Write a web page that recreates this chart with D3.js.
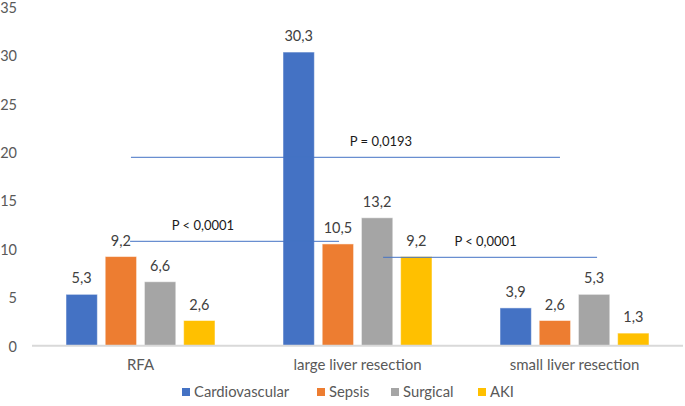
<!DOCTYPE html>
<html><head><meta charset="utf-8">
<script src="https://cdn.jsdelivr.net/npm/d3@7"></script>
<style>
html,body{margin:0;padding:0;background:#fff;}
svg{display:block;font-family:Lato,"Open Sans",sans-serif;}
</style></head>
<body>
<svg id="chart" width="685" height="406"></svg>
<script>
const categories = ["RFA", "large liver resection", "small liver resection"];
const seriesNames = ["Cardiovascular", "Sepsis", "Surgical", "AKI"];
const cardiovascular = [5.3, 30.3, 3.9];
const sepsis = [9.2, 10.5, 2.6];
const surgical = [6.6, 13.2, 5.3];
const aki = [2.6, 9.2, 1.3];
const yTicks = [0, 5, 10, 15, 20, 25, 30, 35];
const colors = ["#4472C4", "#ED7D31", "#A5A5A5", "#FFC000"];
// significance annotations: value on y axis, span in category-position units
const annotLabels = ["P = 0,0193", "P < 0,0001", "P < 0,0001"];
const annotValues = [19.43, 10.76, 9.11];
const annotStart = [0.456, 0.452, 1.618];
const annotEnd = [2.433, 1.415, 2.604];
const annotTextPos = [1.608, 0.788, 2.09];

const seriesValues = [cardiovascular, sepsis, surgical, aki];
const svg = d3.select("#chart");
const mLeft = 32, mRight = 683, mTop = 6.5, mBottom = 345.7;

const y = d3.scaleLinear().domain([0, 35]).range([mBottom, mTop]);
const x0 = d3.scaleBand().domain(categories).range([mLeft, mRight]).padding(0);
const x1 = d3.scaleBand().domain(seriesNames).range([34, 183]).paddingInner(0.2).paddingOuter(0);
const xc = d3.scaleLinear().domain([0, 3]).range([mLeft, mRight]);

// y tick labels
const yAxis = d3.axisLeft(y).tickValues(yTicks).tickSize(0).tickFormat(d3.format("d"));
const ga = svg.append("g").attr("transform", `translate(17,1)`).call(yAxis);
ga.select(".domain").remove();
ga.selectAll("text").attr("x", 0).attr("font-size", "14.5px").attr("fill", "#595959")
  .attr("font-family", "Lato, sans-serif");

// bars
categories.forEach((c, ci) => {
  const g = svg.append("g").attr("transform", `translate(${x0(c)},0)`);
  seriesNames.forEach((s, si) => {
    const v = seriesValues[si][ci];
    g.append("rect")
      .attr("x", x1(s)).attr("y", y(v))
      .attr("width", x1.bandwidth()).attr("height", y(0) - y(v))
      .attr("fill", colors[si]).attr("stroke", "#fff").attr("stroke-opacity", 0.5).attr("stroke-width", 1);
    g.append("text")
      .attr("x", x1(s) + x1.bandwidth() / 2).attr("y", y(v) - 11)
      .attr("text-anchor", "middle").attr("font-size", "14.5px").attr("fill", "#404040")
      .text(d3.format(".1f")(v).replace(".", ","));
  });
});

// x axis line
svg.append("line").attr("x1", mLeft).attr("x2", mRight).attr("y1", y(0)).attr("y2", y(0))
  .attr("stroke", "#d9d9d9").attr("stroke-width", 2);

// x axis labels
const xAxis = d3.axisBottom(x0).tickSize(0);
const gx = svg.append("g").attr("transform", `translate(0,${y(0)})`).call(xAxis);
gx.select(".domain").remove();
gx.selectAll("text").attr("y", 14).attr("font-size", "15px").attr("fill", "#595959")
  .attr("font-family", "Lato, sans-serif");

// annotations
annotLabels.forEach((lab, i) => {
  svg.append("line")
    .attr("x1", xc(annotStart[i])).attr("x2", xc(annotEnd[i]))
    .attr("y1", y(annotValues[i])).attr("y2", y(annotValues[i]))
    .attr("stroke", "#4472C4").attr("stroke-width", 1.2).attr("stroke-opacity", 0.8);
  svg.append("text")
    .attr("x", xc(annotTextPos[i])).attr("y", y(annotValues[i]) - 11)
    .attr("text-anchor", "middle").attr("font-size", "13px").attr("fill", "#1a1a1a")
    .text(lab);
});

// legend
const legendX = [182, 317, 391, 478];
seriesNames.forEach((s, i) => {
  const g = svg.append("g").attr("transform", `translate(${legendX[i]},392)`);
  g.append("rect").attr("x", 0).attr("y", -4).attr("width", 8).attr("height", 8).attr("fill", colors[i]);
  g.append("text").attr("x", 12).attr("y", 0).attr("dy", "0.35em")
    .attr("font-size", "14.8px").attr("fill", "#595959").text(s);
});
</script>
</body></html>
